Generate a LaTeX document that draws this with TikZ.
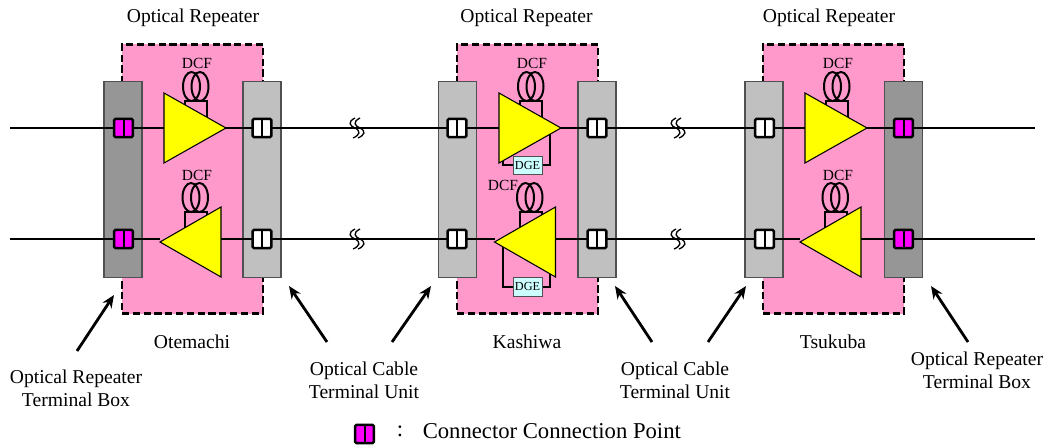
\documentclass[tikz,border=0pt]{standalone}
\usepackage{fontspec}
\setmainfont{Liberation Serif}
\usetikzlibrary{arrows.meta}
\pgfdeclarelayer{back}
\pgfdeclarelayer{wire}
\pgfsetlayers{back,wire,main}
\definecolor{pinkbg}{HTML}{FF99CC}
\definecolor{darkbox}{HTML}{969696}
\definecolor{lightbox}{HTML}{C0C0C0}
\definecolor{dgefill}{HTML}{CCFFFF}
\definecolor{edgegray}{HTML}{505050}
\definecolor{ampyellow}{HTML}{FFFF00}
\definecolor{connpink}{HTML}{FF00FF}
\tikzset{
  room/.style={draw=black,fill=pinkbg,line width=1.8pt,dash pattern=on 5.4pt off 2.7pt,minimum width=105.75pt,minimum height=202pt,inner sep=0pt,outer sep=0pt},
  darkunit/.style={draw=edgegray,fill=darkbox,line width=0.8pt,minimum width=28.5pt,minimum height=146.5pt,inner sep=0pt,outer sep=0pt},
  lightunit/.style={draw=edgegray,fill=lightbox,line width=0.8pt,minimum width=28.5pt,minimum height=146.5pt,inner sep=0pt,outer sep=0pt},
  conn/.style={draw=black,line width=1.9pt,rounded corners=1pt,minimum width=14pt,minimum height=13.6pt,inner sep=0pt,outer sep=0pt,path picture={\draw[black,line width=1.5pt] (path picture bounding box.north)--(path picture bounding box.south);}},
  connw/.style={conn,fill=white},
  connm/.style={conn,fill=connpink},
  fibre/.style={draw=black,line width=2pt},
  thin fibre/.style={draw=black,line width=1.5pt},
  amp/.style={draw=black,fill=ampyellow,line width=0.8pt,line join=miter},
  dgebox/.style={draw=edgegray,fill=dgefill,line width=0.5pt,minimum width=21.5pt,minimum height=14pt,inner sep=0pt,font=\fontsize{9.2}{10}\selectfont},
  lbl/.style={font=\fontsize{14.7}{17.4}\selectfont,align=center,inner sep=0pt},
  leg/.style={font=\fontsize{17}{20}\selectfont,inner sep=0pt},
  dcf/.style={font=\fontsize{11.6}{13}\selectfont,inner sep=0pt},
  pointer/.style={draw=black,line width=2.1pt,-{Stealth[length=9.5pt,width=8pt]}}
}
% top amplifier: #1 name, #2 left x
\newcommand{\ampTop}[2]{%
  \coordinate (#1in) at (#2,128);
  \coordinate (#1out) at ({#2+62},128);
  \draw[thin fibre] ({#2+21},115) -- ({#2+21},101) -- ({#2+43},101) -- ({#2+43},118);
  \draw[thin fibre] ({#2+27.5},86.5) ellipse [x radius=8.5,y radius=14.5];
  \draw[thin fibre] ({#2+36},86.5) ellipse [x radius=8.5,y radius=14.5];
  \node[dcf] (#1dcf) at ({#2+33},63) {DCF};
  \draw[amp] (#2,93) -- ({#2+62},128) -- (#2,163) -- cycle;
}
% bottom amplifier: #1 name, #2 base x
\newcommand{\ampBot}[2]{%
  \coordinate (#1in) at (#2,239);
  \coordinate (#1out) at ({#2-61},239);
  \draw[thin fibre] ({#2-36},228) -- ({#2-36},212) -- ({#2-14},212) -- ({#2-14},218);
  \draw[thin fibre] ({#2-30},197.5) ellipse [x radius=8.5,y radius=14.5];
  \draw[thin fibre] ({#2-21.5},197.5) ellipse [x radius=8.5,y radius=14.5];
  \draw[amp] (#2,207) -- ({#2-61},242) -- (#2,277) -- cycle;
}
\newcommand{\wave}[2]{%
  \draw[black,line width=1pt] ({#1+3},{#2-10}) .. controls ({#1-5},{#2-6}) and ({#1-2},{#2-2}) .. ({#1+3},#2) .. controls ({#1+9},{#2+3}) and ({#1+8},{#2+7}) .. ({#1+1},{#2+10});
  \draw[black,line width=1pt] ({#1+8},{#2-10}) .. controls ({#1},{#2-6}) and ({#1+3},{#2-2}) .. ({#1+8},#2) .. controls ({#1+14},{#2+3}) and ({#1+13},{#2+7}) .. ({#1+6},{#2+10});
}
\begin{document}
\begin{tikzpicture}[x=0.75pt,y=-0.75pt]
\useasboundingbox (0,0) rectangle (1045,445);
\begin{pgfonlayer}{back}
  \fill[white] (0,0) rectangle (1045,445);
  \node[room] (room1) at (192.5,179) {};
  \node[room] (room2) at (527.5,179) {};
  \node[room] (room3) at (833.5,179) {};
  \node[darkunit] (box1a) at (123,179.5) {};
  \node[lightunit] (box1b) at (262,179.5) {};
  \node[lightunit] (box2a) at (457.5,179.5) {};
  \node[lightunit] (box2b) at (597,179.5) {};
  \node[lightunit] (box3a) at (764,179.5) {};
  \node[darkunit] (box3b) at (903.5,179.5) {};
\end{pgfonlayer}

% connector points, upper row
\node[connm] (c1t) at (123.5,128) {};
\node[connw] (c2t) at (262,128) {};
\node[connw] (c3t) at (457,128) {};
\node[connw] (c4t) at (597,128) {};
\node[connw] (c5t) at (764.5,128) {};
\node[connm] (c6t) at (903.5,128) {};
% lower row
\node[connm] (c1b) at (123.5,239) {};
\node[connw] (c2b) at (262,239) {};
\node[connw] (c3b) at (457,239) {};
\node[connw] (c4b) at (597,239) {};
\node[connw] (c5b) at (764.5,239) {};
\node[connm] (c6b) at (903.5,239) {};

\coordinate (startT) at (10,128);
\coordinate (endT) at (1035,128);
\coordinate (startB) at (10,239);
\coordinate (endB) at (1035,239);

% DGE blocks
\node[dgebox] (dgeT) at (527.5,165.5) {DGE};
\node[dgebox] (dgeB) at (527.5,286.5) {DGE};

\begin{pgfonlayer}{wire}
  \draw[thin fibre] (dgeT.west) -- (503,165.5) -- (503,155);
  \draw[thin fibre] (dgeT.east) -- (550,165.5) -- (550,130);
  \draw[thin fibre] (dgeB.west) -- (503,286.5) -- (503,240);
  \draw[thin fibre] (dgeB.east) -- (550,286.5) -- (550,270);
\end{pgfonlayer}

\ampTop{a1}{164}
\ampTop{a2}{499}
\ampTop{a3}{805}
\ampBot{b1}{221}
\ampBot{b2}{555.5}
\ampBot{b3}{861}
\node[dcf] (dcf1b) at (197,175) {DCF};
\node[dcf] (dcf2b) at (503,185) {DCF};
\node[dcf] (dcf3b) at (838,175) {DCF};

\begin{pgfonlayer}{wire}
  \draw[fibre] (startT) -- (c1t) -- (a1in);
  \draw[fibre] (a1out) -- (c2t) -- (c3t) -- (a2in);
  \draw[fibre] (a2out) -- (c4t) -- (c5t) -- (a3in);
  \draw[fibre] (a3out) -- (c6t) -- (endT);
  \draw[fibre] (startB) -- (c1b) -- (b1out);
  \draw[fibre] (b1in) -- (c2b) -- (c3b) -- (b2out);
  \draw[fibre] (b2in) -- (c4b) -- (c5b) -- (b3out);
  \draw[fibre] (b3in) -- (c6b) -- (endB);
\end{pgfonlayer}

\wave{352}{128}
\wave{673}{128}
\wave{352}{239}
\wave{673}{239}

% labels
\node[lbl] (t1) at (193,18) {Optical Repeater};
\node[lbl] (t2) at (526.5,18) {Optical Repeater};
\node[lbl] (t3) at (829,18) {Optical Repeater};
\node[lbl] (p1) at (192,342) {Otemachi};
\node[lbl] (p2) at (527,342) {Kashiwa};
\node[lbl] (p3) at (833,342) {Tsukuba};
\node[lbl] (l1) at (76,388.5) {Optical Repeater\\Terminal Box};
\node[lbl] (l2) at (364,380) {Optical Cable\\Terminal Unit};
\node[lbl] (l3) at (675,380) {Optical Cable\\Terminal Unit};
\node[lbl] (l4) at (977,370) {Optical Repeater\\Terminal Box};

% pointers
\coordinate (h1) at (114,295);
\coordinate (h2) at (289,286);
\coordinate (h3) at (431,286);
\coordinate (h4) at (615,286);
\coordinate (h5) at (746,286);
\coordinate (h6) at (931,286);
\draw[pointer] (77,351) -- (h1);
\draw[pointer] (327,342) -- (h2);
\draw[pointer] (392,342) -- (h3);
\draw[pointer] (652,342) -- (h4);
\draw[pointer] (708,342) -- (h5);
\draw[pointer] (968,342) -- (h6);

% legend
\node[connm] (legend) at (364.5,434) {};
\node[leg] (colon) at (400,431) {:};
\node[leg,anchor=west] (legtext) at (422.5,431) {Connector Connection Point};
\end{tikzpicture}
\end{document}
